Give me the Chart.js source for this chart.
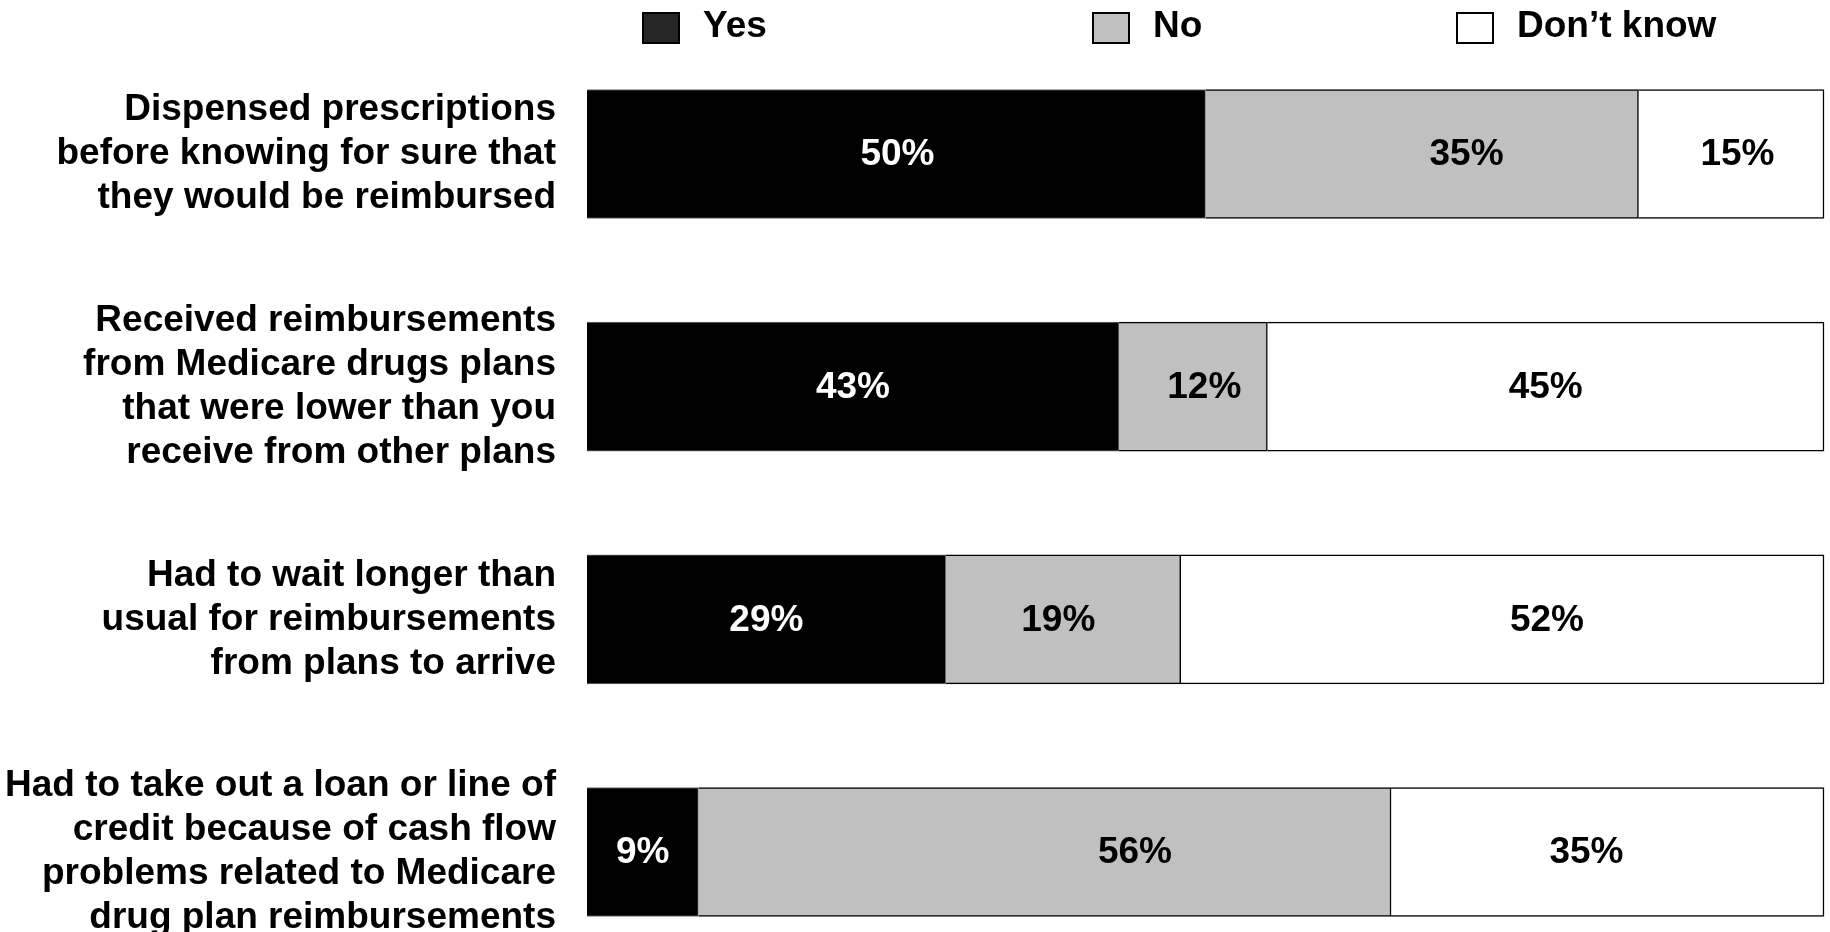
<!DOCTYPE html>
<html>
<head>
<meta charset="utf-8">
<script src="https://cdn.jsdelivr.net/npm/chart.js@4.4.1/dist/chart.umd.min.js"></script>
<style>
  html, body { margin: 0; padding: 0; background: #fff; }
  #wrap { width: 1830px; height: 932px; position: relative; }
</style>
</head>
<body>
<div id="wrap"><canvas id="graph"></canvas></div>
<script>
const categories = [
  ["Dispensed prescriptions", "before knowing for sure that", "they would be reimbursed"],
  ["Received reimbursements", "from Medicare drugs plans", "that were lower than you", "receive from other plans"],
  ["Had to wait longer than", "usual for reimbursements", "from plans to arrive"],
  ["Had to take out a loan or line of", "credit because of cash flow", "problems related to Medicare", "drug plan reimbursements"]
];
const seriesNames = ["Yes", "No", "Don\u2019t know"];
const yesValues = [50, 43, 29, 9];
const noValues = [35, 12, 19, 56];
const dontKnowValues = [15, 45, 52, 35];
// where each value label sits along the bar, in % of the axis
const yesLabelAt = [25.1, 21.5, 14.5, 4.5];
const noLabelAt = [71.1, 49.9, 38.1, 44.3];
const dontKnowLabelAt = [93, 77.5, 77.6, 80.8];

const FONT = '"Liberation Sans", Arial, sans-serif';

// legend drawn by hand so the items keep their odd spacing
const legendPlugin = {
  id: 'sheetLegend',
  afterDraw(chart, args, opts) {
    const ctx = chart.ctx;
    ctx.save();
    ctx.font = 'bold 37px ' + FONT;
    ctx.textBaseline = 'alphabetic';
    ctx.textAlign = 'left';
    chart.data.datasets.forEach((ds, i) => {
      const x = opts.starts[i];
      ctx.fillStyle = ds.legendFill;
      ctx.fillRect(x, 13, 36, 30);
      ctx.lineWidth = 2;
      ctx.strokeStyle = '#000';
      ctx.strokeRect(x, 13, 36, 30);
      ctx.fillStyle = '#000';
      ctx.fillText(ds.label, x + 60, 37);
    });
    ctx.restore();
  }
};

const valueLabels = {
  id: 'valueLabels',
  afterDatasetsDraw(chart) {
    const ctx = chart.ctx;
    const xs = chart.scales.x;
    ctx.save();
    ctx.font = 'bold 37px ' + FONT;
    ctx.textAlign = 'center';
    ctx.textBaseline = 'middle';
    chart.data.datasets.forEach((ds, i) => {
      const meta = chart.getDatasetMeta(i);
      meta.data.forEach((bar, j) => {
        ctx.fillStyle = ds.textColor;
        ctx.fillText(ds.data[j] + '%', xs.getPixelForValue(ds.labelAt[j]), bar.y + 1);
      });
    });
    ctx.restore();
  }
};

const graph = document.getElementById('graph');
let barChart = new Chart(graph, {
  type: 'bar',
  data: {
    labels: categories,
    datasets: [{
      label: seriesNames[0],
      data: yesValues,
      labelAt: yesLabelAt,
      backgroundColor: '#000000',
      borderColor: '#6e6e6e',
      borderWidth: 1,
      legendFill: '#262626',
      textColor: '#ffffff',
      barThickness: 129,
      clip: false
    }, {
      label: seriesNames[1],
      data: noValues,
      labelAt: noLabelAt,
      backgroundColor: '#c0c0c0',
      borderColor: '#000000',
      borderWidth: 1.5,
      legendFill: '#c0c0c0',
      textColor: '#000000',
      barThickness: 129,
      clip: false
    }, {
      label: seriesNames[2],
      data: dontKnowValues,
      labelAt: dontKnowLabelAt,
      backgroundColor: '#ffffff',
      borderColor: '#000000',
      borderWidth: 1.5,
      legendFill: '#ffffff',
      textColor: '#000000',
      barThickness: 129,
      clip: false
    }]
  },
  options: {
    indexAxis: 'y',
    responsive: true,
    maintainAspectRatio: false,
    animation: false,
    layout: { padding: { top: 154, bottom: 80, left: 0, right: 6 } },
    plugins: {
      legend: { display: false },
      tooltip: { enabled: false },
      sheetLegend: { starts: [643, 1093, 1457] }
    },
    scales: {
      x: {
        stacked: true,
        min: 0,
        max: 100,
        display: false
      },
      y: {
        stacked: true,
        offset: false,
        grid: { display: false, drawTicks: false },
        border: { display: false },
        afterFit: s => {
          s.width = 587;
          s.paddingTop = 0;
          s.paddingBottom = 0;
        },
        ticks: {
          padding: 31,
          color: '#000',
          font: { family: FONT, size: 37, weight: 'bold', lineHeight: 1.19 }
        }
      }
    }
  },
  plugins: [legendPlugin, valueLabels]
});
</script>
</body>
</html>
